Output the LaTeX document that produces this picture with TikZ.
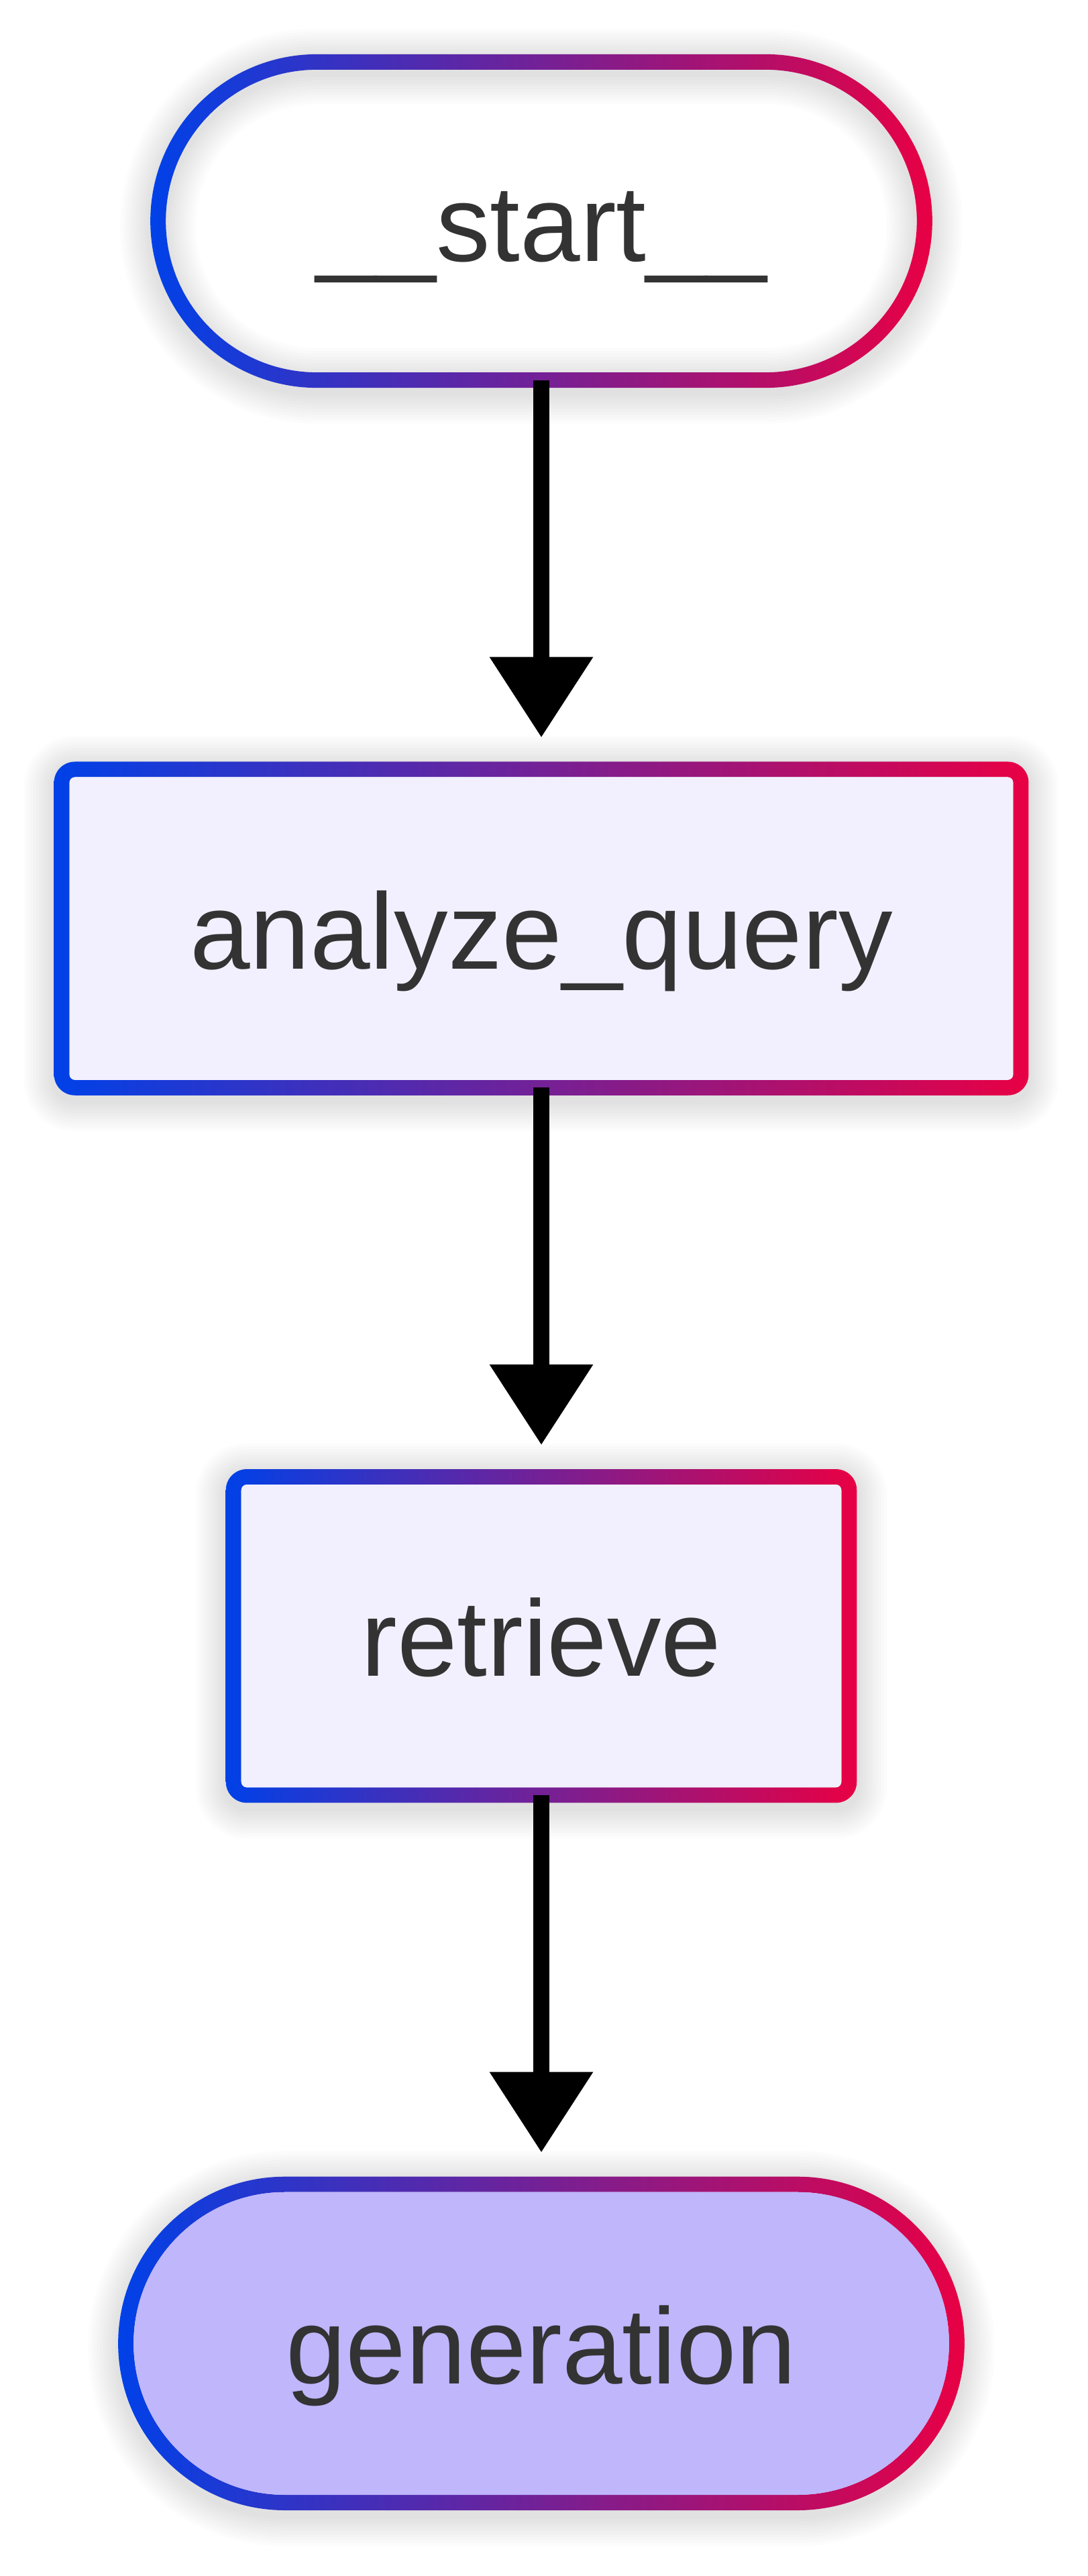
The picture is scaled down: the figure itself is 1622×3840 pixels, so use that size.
\documentclass[tikz,border=0pt]{standalone}
\usepackage{fontspec}
\setmainfont{Liberation Sans}
\usepackage{xcolor}
\usepackage{tikz}
\usetikzlibrary{positioning,backgrounds,arrows.meta}

\definecolor{edgeblue}{HTML}{0041E8}
\definecolor{edgered}{HTML}{E80044}
\definecolor{txtgray}{HTML}{333333}
\definecolor{procfill}{HTML}{F2F0FF}
\definecolor{lastfill}{HTML}{BFB6FC}

\begin{document}
\begin{tikzpicture}[
  x=0.01cm, y=-0.01cm,
  every node/.style={font=\fontsize{45.8pt}{55pt}\selectfont,text=txtgray,
    inner sep=0pt,outer sep=0pt,minimum height=4.51cm,
    text height=1.2cm,text depth=0pt},
  term/.style={rectangle,rounded corners=2.255cm},
  proc/.style={rectangle,rounded corners=0.08cm,fill=procfill},
  last/.style={fill=lastfill},
  flow/.style={-{Triangle[length=1.2cm,width=1.48cm]},line width=0.24cm,
    shorten <=0.115cm,shorten >=0.59cm},
  node distance=6.03cm,
]
\useasboundingbox (0,0) rectangle (1622,3840);

\node [term,minimum width=11.19cm] (start) at (807,329.5) {\_\_start\_\_};
\node [proc,minimum width=14.06cm,below=of start] (analyze) {analyze\_query};
\node [proc,minimum width=8.94cm,below=of analyze] (retrieve) {retrieve};
\node [term,last,minimum width=12.15cm,below=of retrieve] (generation) {generation};

\draw [flow] (start) -- (analyze);
\draw [flow] (analyze) -- (retrieve);
\draw [flow] (retrieve) -- (generation);

% borders and soft shadow
\begin{scope}[on background layer]
\foreach \n/\r in {start/2.485,analyze/0.31,retrieve/0.31,generation/2.485} {
  \pgfmathsetmacro\rm{\r-0.115}
  \pgfmathsetmacro\ri{\r-0.23}
  \foreach \k in {1,...,10} {
    \pgfmathsetmacro\lw{0.23+\k*0.09}
    \draw [black,opacity=0.013,line width=\lw cm,rounded corners=\rm cm]
      ([shift={(-0.115cm,-0.2cm)}]\n.south west) rectangle ([shift={(0.115cm,0.05cm)}]\n.north east);
  }
  \shade [left color=edgeblue,right color=edgered,even odd rule]
    [rounded corners=\r cm] ([shift={(-0.23cm,-0.23cm)}]\n.south west) rectangle ([shift={(0.23cm,0.23cm)}]\n.north east)
    [rounded corners=\ri cm] (\n.south west) rectangle (\n.north east);
}
\end{scope}
\end{tikzpicture}
\end{document}
